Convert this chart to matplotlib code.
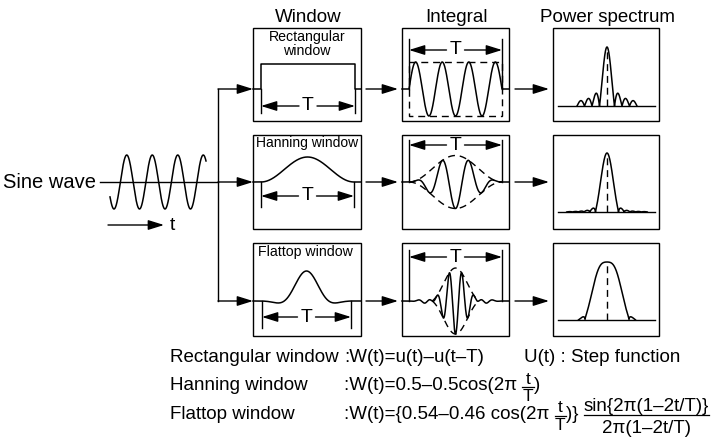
import numpy as np
import matplotlib
matplotlib.use("Agg")
import matplotlib.pyplot as plt
from matplotlib.patches import Rectangle, FancyArrowPatch

plt.rcParams["font.family"] = ["Liberation Sans", "DejaVu Sans"]

# ---------------- content ----------------
column_titles = ["Window", "Integral", "Power spectrum"]
window_names = ["Rectangular\nwindow", "Hanning window", "Flattop window"]
input_label = "Sine wave"
time_label = "t"
period_label = "T"
integral_cycles = [3.5, 3.5, 7.5]      # sine cycles inside one period T
spectrum_sidelobes = [3, 5, 1]         # side lobes drawn on each side
spectrum_gamma = [1.0, 0.75, 0.5]      # display compression of |W(f)|
formula_names = ["Rectangular window", "Hanning window", "Flattop window"]
rect_formula = ":W(t)=u(t)\u2013u(t\u2013T)"
step_note = "U(t) : Step function"
hann_formula = [":W(t)=0.5\u20130.5cos(2\u03c0 ", ")"]
flat_formula = [":W(t)={0.54\u20130.46 cos(2\u03c0 ", ")} "]
flat_num = "sin{2\u03c0(1\u20132t/T)}"
flat_den = "2\u03c0(1\u20132t/T)"
frac_num, frac_den = "t", "T"


def w_rect(u):
    return np.ones_like(u)


def w_hann(u):
    return 0.5 - 0.5 * np.cos(2 * np.pi * u)


def w_flat(u):
    return (0.54 - 0.46 * np.cos(2 * np.pi * u)) * np.sinc(2 * (1 - 2 * u))


windows = [w_rect, w_hann, w_flat]

# ---------------- layout (pixels, y down) ----------------
W, H = 713, 446
fig = plt.figure(figsize=(W / 100, H / 100), dpi=100)
ax = fig.add_axes([0, 0, 1, 1])
ax.set_xlim(0, W)
ax.set_ylim(H, 0)
ax.axis("off")
renderer = fig.canvas.get_renderer()

LW = 1.0
FS = 13.5
K = "black"
DASH = (0, (5, 3.5))

col_x = [(253, 361), (402, 509), (553, 659)]
row_y = [(28, 121), (135, 229), (243, 336)]
base_y = [89, 182, 301]
win_mark = [(261, 355), (261, 354), (262, 351)]
win_h = [25, 25, 30]
win_T_y = [106, 196, 317]
win_mark_bot = [113, 207, 328]
int_mark = (409, 502)
int_amp = [27, 26.5, 33]
int_T_y = [50, 145, 257]
int_mark_top = [39, 140, 250]
p_base = [106, 212, 320]
p_h = [59, 59, 58]
p_main_half = [7.5, 11.5, 22]
p_cx = 607
name_pos = [(307, 44), (307, 143), (305, 252)]
name_fs = [10.2, 10.0, 10.2]


def arrow(x0, y0, x1, y1, scale=12):
    a = FancyArrowPatch((x0, y0), (x1, y1),
                        arrowstyle="-|>,head_length=0.8,head_width=0.25",
                        mutation_scale=scale, color=K, lw=LW,
                        shrinkA=0, shrinkB=0)
    ax.add_patch(a)


def T_arrows(m0, m1, y):
    xc = (m0 + m1) / 2
    ax.text(xc, y, period_label, fontsize=14, ha="center", va="center")
    arrow(xc - 9, y, m0, y)
    arrow(xc + 9, y, m1, y)


# titles
for (x0, x1), t in zip(col_x, column_titles):
    ax.text((x0 + x1) / 2 + 1, 17, t, fontsize=FS, ha="center", va="center")

# boxes
for (x0, x1) in col_x:
    for (y0, y1) in row_y:
        ax.add_patch(Rectangle((x0, y0), x1 - x0, y1 - y0, fill=False,
                               ec=K, lw=LW))

# input sine wave
ax.text(96, 182, input_label, fontsize=14.5, ha="right", va="center")
xs = np.linspace(110, 206, 400)
ax.plot(xs, 182 + 27 * np.cos(2 * np.pi * (xs - 114) / 25.5), color=K, lw=1.1)
ax.plot([100, 218], [182, 182], color=K, lw=LW)
ax.plot([218, 218], [base_y[0], base_y[2]], color=K, lw=LW)
for by in base_y:
    arrow(218, by, 253, by)
arrow(108, 225, 164, 225)
ax.text(170, 226, time_label, fontsize=14, ha="left", va="center")

u = np.linspace(0, 1, 1200)
for r in range(3):
    wf = windows[r]
    by = base_y[r]
    # ---- window column
    m0, m1 = win_mark[r]
    xw = np.concatenate([[col_x[0][0], m0], m0 + u * (m1 - m0), [m1, col_x[0][1]]])
    yw = np.concatenate([[by, by], by - win_h[r] * wf(u), [by, by]])
    ax.plot(xw, yw, color=K, lw=1.1)
    for m in (m0, m1):
        ax.plot([m, m], [by, win_mark_bot[r]], color=K, lw=LW)
    T_arrows(m0, m1, win_T_y[r])
    ax.text(name_pos[r][0], name_pos[r][1], window_names[r],
            fontsize=name_fs[r], ha="center", va="center", linespacing=0.95)
    # ---- integral column
    i0, i1 = int_mark
    A = int_amp[r]
    sig = wf(u) * np.sin(2 * np.pi * integral_cycles[r] * u)
    xi = np.concatenate([[col_x[1][0]], i0 + u * (i1 - i0), [col_x[1][1]]])
    yi = np.concatenate([[by], by - A * sig, [by]])
    ax.plot(xi, yi, color=K, lw=1.1)
    if r == 0:
        ax.add_patch(Rectangle((i0, by - A), i1 - i0, 2 * A, fill=False,
                               ec=K, lw=LW, ls=DASH))
    else:
        env = wf(u)
        if r == 2:
            msk = (u > 0.2) & (u < 0.8) & (env >= 0)
        else:
            msk = np.ones_like(u, dtype=bool)
        xe = i0 + u[msk] * (i1 - i0)
        ax.plot(xe, by - A * env[msk], color=K, lw=LW, ls=DASH)
        ax.plot(xe, by + A * env[msk], color=K, lw=LW, ls=DASH)
    for m in (i0, i1):
        ax.plot([m, m], [int_mark_top[r], by], color=K, lw=LW)
    T_arrows(i0, i1, int_T_y[r])
    # ---- arrows between columns
    arrow(366, by, 398, by)
    arrow(515, by, 549, by)
    # ---- power spectrum column
    N, P = 2048, 64
    uu = (np.arange(N) + 0.5) / N
    S = np.abs(np.fft.fftshift(np.fft.fft(wf(uu), N * P)))
    f = np.fft.fftshift(np.fft.fftfreq(N * P, d=1.0 / N))
    S = S / S.max()
    pos = f >= 0
    fp, Sp = f[pos], S[pos]
    mins = [i for i in range(1, len(Sp) - 1)
            if Sp[i] < Sp[i - 1] and Sp[i] <= Sp[i + 1] and Sp[i] < 0.1]
    f1 = fp[mins[0]]
    fmax = fp[mins[spectrum_sidelobes[r]]]
    msk = np.abs(f) <= fmax
    ppb = p_main_half[r] / f1
    pb = p_base[r]
    ax.plot([558, 655], [pb, pb], color=K, lw=LW)
    ax.plot(p_cx + f[msk] * ppb, pb - p_h[r] * S[msk] ** spectrum_gamma[r],
            color=K, lw=1.1)
    ax.plot([p_cx, p_cx], [pb, pb - p_h[r]], color=K, lw=LW, ls=DASH)


# ---------------- formulas ----------------
def put(x, y, s, fs, ha="left"):
    t = ax.text(x, y, s, fontsize=fs, ha=ha, va="baseline")
    return x + t.get_window_extent(renderer).width


FFS = 13.5
B = [362, 390, 419]
x0 = 170
colon_x = put(x0, B[0], formula_names[0] + " ", FFS)
xe = put(colon_x, B[0], rect_formula, FFS)
put(xe + 40, B[0], step_note, FFS)


def small_frac(x, b):
    fs = 12.5
    t1 = ax.text(x, b - 6.5, frac_num, fontsize=fs, ha="left", va="baseline")
    w1 = t1.get_window_extent(renderer).width
    t2 = ax.text(x, b + 11, frac_den, fontsize=fs, ha="left", va="baseline")
    w2 = t2.get_window_extent(renderer).width
    wd = max(w1, w2) + 1
    t1.set_x(x + (wd - w1) / 2)
    t2.set_x(x + (wd - w2) / 2)
    ax.plot([x, x + wd], [b - 3.5, b - 3.5], color=K, lw=0.9)
    return x + wd


put(x0, B[1], formula_names[1], FFS)
xe = put(colon_x, B[1], hann_formula[0], FFS)
xe = small_frac(xe, B[1])
put(xe, B[1], hann_formula[1], FFS)

put(x0, B[2], formula_names[2], FFS)
xe = put(colon_x, B[2], flat_formula[0], FFS)
xe = small_frac(xe, B[2])
xe = put(xe, B[2], flat_formula[1], FFS)
tn = ax.text(xe, B[2] - 8, flat_num, fontsize=FFS, ha="left", va="baseline")
wn = tn.get_window_extent(renderer).width
td = ax.text(xe + wn / 2, B[2] + 14, flat_den, fontsize=FFS, ha="center",
             va="baseline")
ax.plot([xe, xe + wn], [B[2] - 4, B[2] - 4], color=K, lw=0.9)

fig.savefig("out.png", dpi=100)
